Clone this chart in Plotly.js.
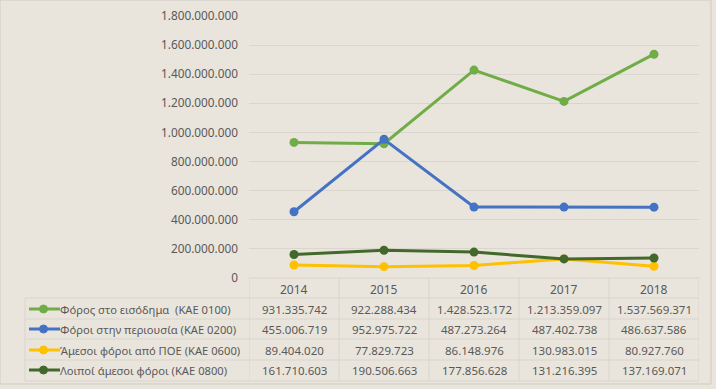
<!DOCTYPE html>
<html>
<head>
<meta charset="utf-8">
<script src="https://cdn.plot.ly/plotly-3.0.1.min.js"></script>
<style>
  html, body { margin: 0; padding: 0; background: #E9E5DC; }
  #chart { width: 716px; height: 389px; }
</style>
</head>
<body>
<div id="chart"></div>
<script>
// ---- Data ----
const years = ['2014', '2015', '2016', '2017', '2018'];
const seriesNames = [
  'Φόρος στο εισόδημα  (ΚΑΕ 0100)',
  'Φόροι στην περιουσία (ΚΑΕ 0200)',
  'Άμεσοι φόροι από ΠΟΕ (ΚΑΕ 0600)',
  'Λοιποί άμεσοι φόροι (ΚΑΕ 0800)'
];
const incomeTax   = [931335742, 922288434, 1428523172, 1213359097, 1537569371];
const propertyTax = [455006719, 952975722, 487273264, 487402738, 486637586];
const poeTax      = [89404020, 77829723, 86148976, 130983015, 80927760];
const otherTax    = [161710603, 190506663, 177856628, 131216395, 137169071];
const yTicks = [0, 200000000, 400000000, 600000000, 800000000, 1000000000,
                1200000000, 1400000000, 1600000000, 1800000000];

// ---- Styles ----
const colors = ['#70AD47', '#4472C4', '#FFC000', '#43682B'];
const allSeries = [incomeTax, propertyTax, poeTax, otherTax];
const textColor = '#595959';
const fontFam = '"Noto Sans", "Open Sans", sans-serif';
const gridColor = '#DAD6CD';

// layout geometry (pixels)
const W = 716, H = 389;
const L = 249, R = 699, T = 16, B = 278;
const plotH = B - T, plotW = R - L;
const pyToPaper = y => (B - y) / plotH;
const pxToPaper = x => (x - L) / plotW;

const rowCenters = [309, 329, 350, 370];
const rowLines = [298, 319, 339, 360, 381];
const headerCenter = 289;
const tableLeft = 25;

function fmt(n) {
  return String(n).replace(/\B(?=(\d{3})+(?!\d))/g, '.');
}

const traces = allSeries.map((vals, i) => ({
  type: 'scatter',
  mode: 'lines+markers',
  x: years,
  y: vals,
  name: seriesNames[i],
  line: { color: colors[i], width: 3 },
  marker: { color: colors[i], size: 9 },
  showlegend: false,
  hoverinfo: 'skip'
}));

const annotations = [];
const shapes = [];

// header years
years.forEach((yr, j) => {
  annotations.push({
    xref: 'x', yref: 'paper', x: j, y: pyToPaper(headerCenter),
    text: yr, showarrow: false, xanchor: 'center', yanchor: 'middle',
    font: { family: fontFam, size: 12, color: textColor }
  });
});

// table values and row labels
allSeries.forEach((vals, i) => {
  const yp = pyToPaper(rowCenters[i]);
  vals.forEach((v, j) => {
    annotations.push({
      xref: 'x', yref: 'paper', x: j, y: yp,
      text: fmt(v), showarrow: false, xanchor: 'center', yanchor: 'middle',
      font: { family: fontFam, size: 11.5, color: textColor }
    });
  });
  annotations.push({
    xref: 'paper', yref: 'paper', x: pxToPaper(58), y: yp,
    text: seriesNames[i], showarrow: false, xanchor: 'left', yanchor: 'middle',
    font: { family: fontFam, size: 11.2, color: textColor }
  });
  // legend key: line + marker
  shapes.push({
    type: 'line', xref: 'paper', yref: 'paper',
    x0: pxToPaper(29), x1: pxToPaper(60), y0: yp, y1: yp,
    line: { color: colors[i], width: 3 }
  });
  shapes.push({
    type: 'circle', xref: 'paper', yref: 'paper',
    x0: pxToPaper(39.5), x1: pxToPaper(47.5),
    y0: pyToPaper(rowCenters[i] + 4), y1: pyToPaper(rowCenters[i] - 4),
    fillcolor: colors[i], line: { color: colors[i], width: 1 }
  });
});

// table grid
const tblColor = '#D9D5CC';
shapes.push({
  type: 'line', xref: 'paper', yref: 'paper',
  x0: 0, x1: 1, y0: pyToPaper(B), y1: pyToPaper(B),
  line: { color: tblColor, width: 1 }
});
rowLines.forEach(y => {
  shapes.push({
    type: 'line', xref: 'paper', yref: 'paper',
    x0: pxToPaper(tableLeft), x1: 1, y0: pyToPaper(y), y1: pyToPaper(y),
    line: { color: tblColor, width: 1 }
  });
});
shapes.push({
  type: 'line', xref: 'paper', yref: 'paper',
  x0: pxToPaper(tableLeft), x1: pxToPaper(tableLeft),
  y0: pyToPaper(rowLines[0]), y1: pyToPaper(rowLines[rowLines.length - 1]),
  line: { color: tblColor, width: 1 }
});
for (let j = 0; j <= years.length; j++) {
  shapes.push({
    type: 'line', xref: 'x', yref: 'paper',
    x0: j - 0.5, x1: j - 0.5,
    y0: pyToPaper(B), y1: pyToPaper(rowLines[rowLines.length - 1]),
    line: { color: tblColor, width: 1 }
  });
}
// outer frame
shapes.push({
  type: 'rect', xref: 'paper', yref: 'paper',
  x0: pxToPaper(0), x1: pxToPaper(711), y0: pyToPaper(0), y1: pyToPaper(384),
  line: { color: '#CFCBC4', width: 1 }, layer: 'below'
});

const layout = {
  width: W, height: H,
  paper_bgcolor: '#E9E5DC',
  plot_bgcolor: '#E9E5DC',
  separators: ',.',
  margin: { l: L, r: W - R, t: T, b: H - B, pad: 0 },
  font: { family: fontFam, color: textColor, size: 12 },
  xaxis: {
    type: 'category',
    range: [-0.5, 4.5],
    showgrid: false,
    showline: false,
    zeroline: false,
    showticklabels: false,
    fixedrange: true
  },
  yaxis: {
    range: [0, 1800000000],
    tickvals: yTicks,
    ticktext: yTicks.map(fmt),
    showgrid: true,
    gridcolor: gridColor,
    gridwidth: 1,
    zeroline: false,
    showline: false,
    ticks: '',
    ticklabelstandoff: 10,
    tickfont: { family: fontFam, size: 11.8, color: textColor },
    fixedrange: true
  },
  annotations: annotations,
  shapes: shapes,
  showlegend: false
};

Plotly.newPlot('chart', traces, layout, { displayModeBar: false, staticPlot: true });
</script>
</body>
</html>
